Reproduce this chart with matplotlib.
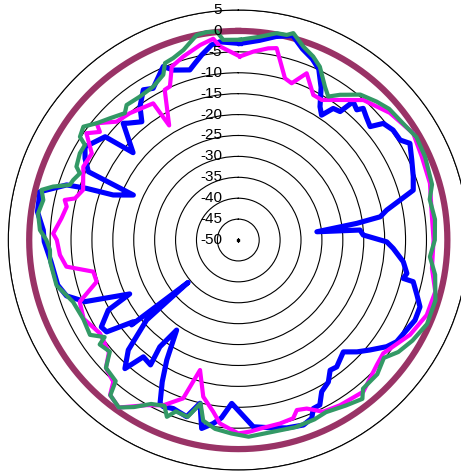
import numpy as np
import matplotlib
matplotlib.use("Agg")
from matplotlib import pyplot as plt
from matplotlib.transforms import offset_copy

# radial scale (dB)
r_ticks = list(range(-50, 6, 5))

# reference ring at 0 dB
ref_deg = list(range(0, 361, 2))
ref_db = [0.0] * len(ref_deg)

# blue trace (angle deg, dB)
blue_deg = [0.5, 6, 10.5, 14.9, 18.6, 22.2, 25.2, 28.5, 31.5, 33.7, 35.8, 38.4, 39.7, 42.3,
            43.5, 46, 49.3, 51.2, 54.6, 58.3, 60.6, 65.2, 70.1, 74.1, 76.1, 78.6, 80.7, 82, 84,
            85.3, 87.7, 90.7, 93.1, 97.5, 101.2, 103.1, 103.4, 107.1, 110.2, 114.4, 122.7,
            125.7, 129.9, 133.3, 136.8, 142.2, 144.8, 147.6, 151.2, 153.7, 156, 157.6, 160.6,
            165.5, 170, 175.4, 182.3, 185.4, 187.8, 191, 193.2, 196.3, 201.1, 204.2, 205.6,
            208.2, 210.8, 214.4, 216.3, 215.1, 219.1, 221.4, 225, 228.9, 229.8, 231.5, 232.1,
            235.1, 237.6, 241.7, 243.6, 248.1, 252, 256, 263.5, 269.5, 272.9, 278, 283.7,
            287.8, 288.8, 289.8, 293.2, 294.5, 298, 301.3, 307.8, 309.7, 315.4, 316.7, 320.8,
            323.6, 327.7, 330.7, 336.6, 339.1, 344.1, 346.2, 348.8, 352.2, 354.7, 360.5]
blue_db = [-3.0, -2.0, -0.5, 0.6, -1.8, -3.2, -4.8, -8.5, -12.6, -14.1, -11.2, -10.8, -7.0,
           -7.9, -6.6, -7.5, -8.4, -5.5, -4.6, -4.5, -2.9, -4.3, -5.5, -6.5, -10.1, -13.8,
           -15.6, -21.4, -31.1, -20.8, -20.1, -14.5, -12.9, -10.2, -8.9, -9.5, -7.0, -5.3,
           -3.7, -3.6, -5.0, -6.3, -9.0, -11.0, -13.3, -11.6, -11.9, -9.8, -8.6, -6.0, -5.9,
           -3.9, -3.1, -3.6, -4.4, -5.2, -10.9, -7.3, -5.7, -4.1, -9.9, -6.0, -6.8, -6.3, -6.7,
           -11.5, -16.6, -23.9, -18.3, -13.5, -14.0, -9.0, -12.8, -20.9, -34.3, -17.4, -18.2,
           -11.6, -11.2, -14.7, -21.0, -10.5, -6.8, -5.5, -4.9, -3.6, -3.3, -1.5, -1.2, -6.9,
           -11.7, -18.2, -22.7, -10.6, -8.5, -7.1, -9.7, -17.3, -10.8, -11.6, -13.5, -10.4,
           -7.5, -8.4, -4.8, -6.5, -7.7, -6.5, -4.9, -2.9, -2.4, -3.0]

# magenta trace
mag_deg = [0.5, 4.55, 8.9, 11.3, 16.1, 18.8, 22.3, 27.35, 30.8, 34.2, 41.8, 50, 58.6, 65.6,
           73.5, 82, 90, 98.3, 104.7, 111.7, 118.9, 128, 132, 140.5, 148.4, 153.7, 157.9, 161,
           162.9, 167.2, 173.4, 176.5, 180, 185.7, 188.3, 192.6, 196.4, 199.2, 204.4, 209,
           215.5, 219.6, 221.4, 226, 229, 236, 243, 248.7, 253.6, 257.7, 261.2, 265.2, 270,
           272, 277, 281, 283, 284.3, 287.9, 295.3, 300.6, 305.1, 308, 309.5, 314.2, 319.5,
           328.1, 328.9, 333.9, 336, 339, 343.3, 348.9, 352.9, 354.6, 360.5]
mag_db = [-6.1, -4.8, -3.6, -3.2, -9.75, -10.4, -6.9, -10.95, -11.0, -9.5, -5.1, -2.7, -1.0,
          -1.8, -2.2, -3.3, -3.3, -3.2, -1.3, -1.5, -3.1, -6.0, -5.4, -3.0, -3.6, -4.2, -6.5,
          -7.0, -5.4, -5.0, -4.6, -4.1, -3.75, -5.9, -8.5, -11.6, -17.6, -9.9, -6.6, -4.85,
          -0.8, -1.9, -4.8, -6.0, -9.0, -10.1, -8.5, -9.3, -14.7, -14.5, -8.4, -7.2, -6.6,
          -5.7, -7.4, -8.2, -7.4, -9.7, -11.0, -9.0, -9.3, -5.6, -8.0, -6.1, -9.4, -10.1,
          -11.5, -18.0, -10.0, -9.8, -5.6, -4.2, -2.5, -1.5, -3.5, -6.1]

# green trace
green_deg = [0.5, 6.1, 10.5, 13.3, 14.9, 18.6, 22.2, 25.2, 29.5, 32.1, 35, 37, 40, 45, 49,
             55, 60, 66, 74, 78, 84, 90, 95, 100, 107, 114, 120, 125, 129, 134, 140, 142, 147,
             153, 157, 163, 170, 177, 182, 187, 191, 193, 196, 200, 202, 204, 208, 212, 215.5,
             219.5, 221, 226, 229, 233, 234, 237.4, 243, 249.5, 256, 263.5, 267, 270, 272.9,
             277.6, 281.6, 284.3, 286.1, 288.1, 290, 292.8, 294.4, 298.7, 301.8, 303.1, 306.2,
             309.5, 313.5, 318.2, 320.4, 325.5, 331, 335.6, 337.5, 340.3, 343.9, 348.5, 351.4,
             354.1, 355.7, 360.5]
green_db = [-2.1, -1.1, 0.3, 0.4, 1.2, -1.2, -2.6, -4.2, -7.9, -9.5, -7.6, -6.5, -4.6, -3.2,
            -2.2, -1.7, -0.8, -1.1, -1.8, -3.2, -2.7, -3.0, -4.0, -2.2, -0.7, -0.6, -1.9, -3.3,
            -5.2, -3.8, -3.6, -1.8, -2.8, -3.8, -3.4, -3.2, -3.4, -2.9, -3.7, -4.5, -6.0, -9.9,
            -6.0, -6.4, -4.4, -6.6, -5.6, -2.9, -0.8, -1.9, -5.3, -6.0, -9.3, -8.5, -10.5, -7.9,
            -8.4, -7.8, -5.2, -4.7, -4.9, -4.1, -2.5, -1.7, -2.4, -1.45, -3.9, -7.6, -8.0, -8.9,
            -7.5, -6.8, -6.85, -4.8, -4.1, -6.1, -7.7, -9.3, -8.1, -8.4, -8.05, -6.6, -4.2,
            -3.8, -2.7, 0.0, 0.3, 0.1, -2.0, -2.1]

fig = plt.figure(figsize=(4.61, 4.73), dpi=100)
ax = fig.add_axes([0.018, 0.0063, 0.9978, 0.9725], projection='polar')
ax.set_theta_zero_location('N')
ax.set_theta_direction(-1)
ax.set_ylim(-50, 5)

ax.plot(np.radians(ref_deg), ref_db, color='#993366', lw=4.5, zorder=3)
ax.plot(np.radians(blue_deg), blue_db, color='#0000FF', lw=3.7, zorder=4)
ax.plot(np.radians(mag_deg), mag_db, color='#FF00FF', lw=3.0, zorder=5)
ax.plot(np.radians(green_deg), green_db, color='#339966', lw=3.0, zorder=6)

ax.set_xticks([])
ax.set_yticks(r_ticks)
ax.set_yticklabels([])
ax.yaxis.grid(True, color='black', lw=0.8)
ax.spines['polar'].set_color('black')
ax.spines['polar'].set_linewidth(0.8)
ax.plot([0], [-50], 's', color='black', ms=1.5)

lab_tr = offset_copy(ax.transData, fig=fig, x=-0.16, y=0, units='inches')
for v in r_ticks:
    ax.text(0, v, str(v), transform=lab_tr, ha='right', va='center',
            fontsize=11, family='Liberation Sans', zorder=7)

fig.savefig('out.png', dpi=100)
